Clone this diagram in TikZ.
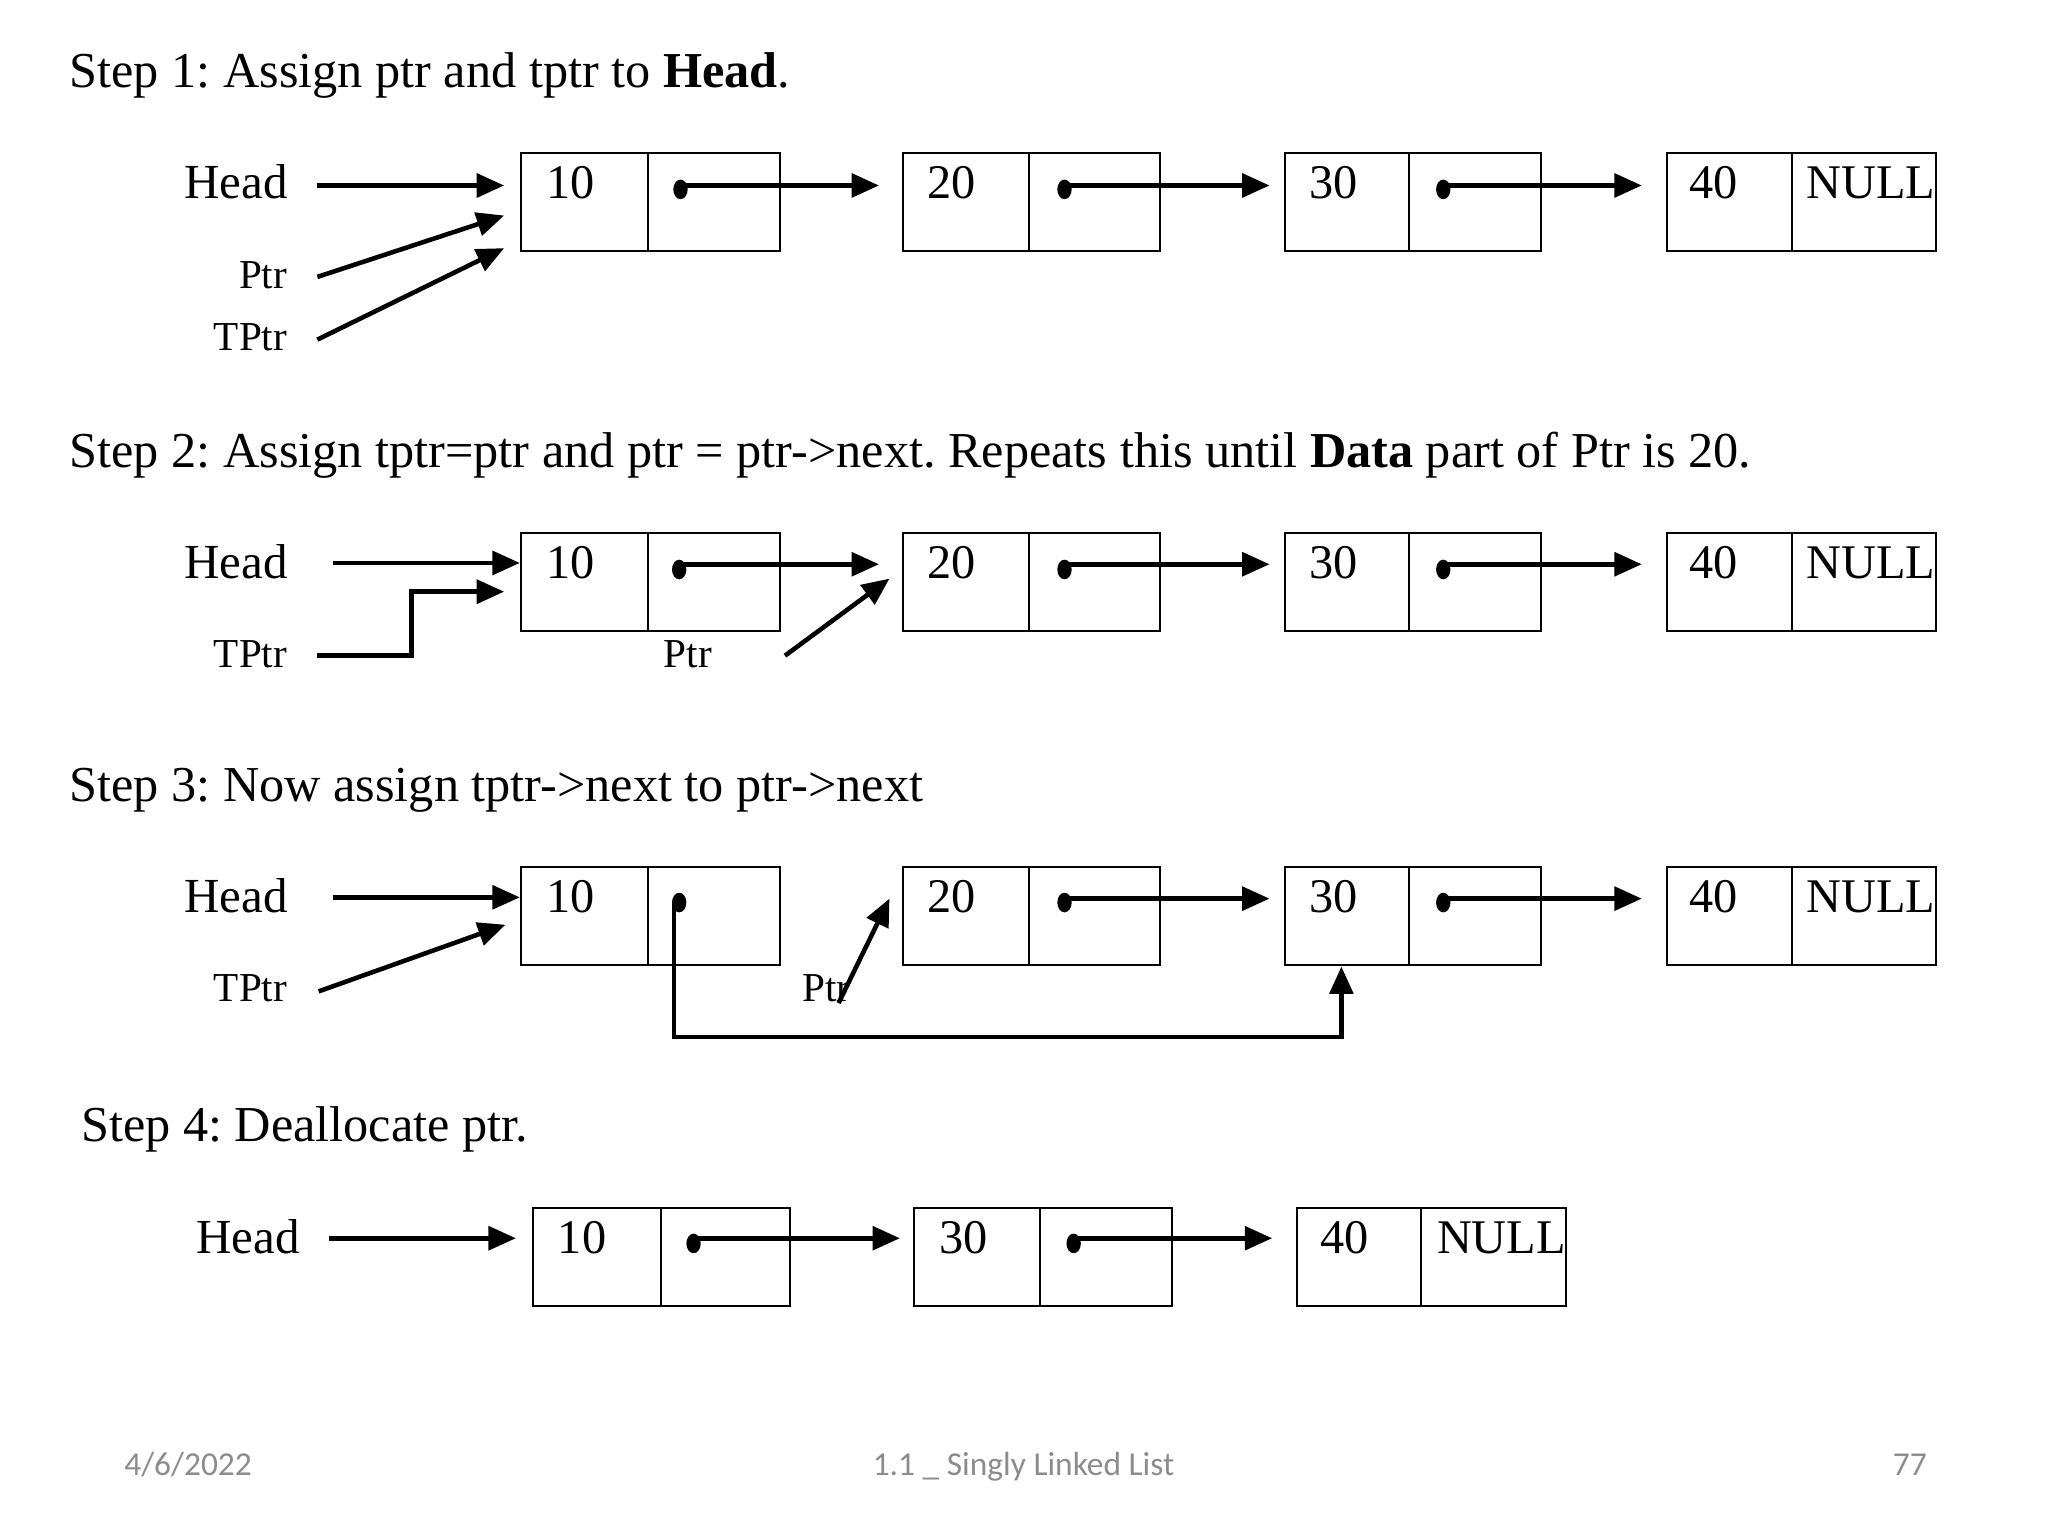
\documentclass[tikz,border=0pt]{standalone}
\usepackage{fontspec}
\setmainfont{Liberation Serif}
\newfontfamily\footfont{Carlito}
\usetikzlibrary{arrows.meta}
\definecolor{footgray}{HTML}{8C8C8C}
\frenchspacing
\begin{document}
\begin{tikzpicture}[x=1pt,y=-1pt,
  cell/.style={draw, line width=1.5pt, minimum width=#1, minimum height=75pt, inner sep=0pt, outer sep=0pt, anchor=north west},
  ptrarrow/.style={line width=3.5pt, -{Triangle[length=21pt,width=18pt]}},
  datatext/.style={font=\fontsize{37}{40}\selectfont, inner sep=0pt, anchor=base west},
  headtext/.style={font=\fontsize{37.5}{40}\selectfont, inner sep=0pt, anchor=base west},
  smalltext/.style={font=\fontsize{31.5}{34}\selectfont, inner sep=0pt},
  titletext/.style={font=\fontsize{38.5}{42}\selectfont, inner sep=0pt, anchor=base west},
  foottext/.style={font=\footfont\fontsize{25.6}{28}\selectfont, text=footgray, inner sep=0pt, anchor=base west},
  dotfill/.style={fill=black}
]
\useasboundingbox (0,0) rectangle (1568,1176);

% ---------- titles ----------
\node[titletext] (t1) at (53,67) {Step 1: Assign ptr and tptr to \textbf{Head}.};
\node[titletext] (t2) at (53,358) {Step 2: Assign tptr=ptr and ptr = ptr->next. Repeats this until \textbf{Data} part of Ptr is 20.};
\node[titletext] (t3) at (53,614) {Step 3: Now assign tptr->next to ptr->next};
\node[titletext] (t4) at (62,874) {Step 4: Deallocate ptr.};

% ---------- rows 1-3: four nodes each ----------
\foreach \r/\T in {1/117,2/408,3/664}{
  \node[cell=97]  (d\r a) at (399,\T) {};
  \node[cell=101] (p\r a) at (496,\T) {};
  \node[cell=97]  (d\r b) at (691,\T) {};
  \node[cell=100] (p\r b) at (788,\T) {};
  \node[cell=95]  (d\r c) at (984,\T) {};
  \node[cell=101] (p\r c) at (1079,\T) {};
  \node[cell=96]  (d\r d) at (1276,\T) {};
  \node[cell=110] (p\r d) at (1372,\T) {};
  \node[datatext] (n\r a) at (418,\T+35) {10};
  \node[datatext] (n\r b) at (710,\T+35) {20};
  \node[datatext] (n\r c) at (1002,\T+35) {30};
  \node[datatext] (n\r d) at (1293,\T+35) {40};
  \node[datatext] (null\r) at (1383,\T+35) {NULL};
  \node[headtext] (head\r) at (141,\T+35) {Head};
}

% ---------- row 1 ----------
\coordinate (h1s) at (243,142); \coordinate (h1e) at (386,142);
\draw[ptrarrow] (h1s) -- (h1e);
\node[smalltext, anchor=base east] (ptr1) at (220,221) {Ptr};
\node[smalltext, anchor=base east] (tptr1) at (220,268) {TPtr};
\coordinate (ptr1s) at (243,212); \coordinate (ptr1e) at (386,165);
\coordinate (tptr1s) at (243,260); \coordinate (tptr1e) at (386,190);
\draw[ptrarrow] (ptr1s) -- (ptr1e);
\draw[ptrarrow] (tptr1s) -- (tptr1e);
\foreach \n/\dx/\tx in {a/521/673, b/815/972, c/1105/1257}{
  \coordinate (dot1\n) at (\dx,145);
  \coordinate (ls1\n) at (\dx,142);
  \coordinate (le1\n) at (\tx,142);
  \fill[dotfill] (dot1\n) ellipse [x radius=5.5pt, y radius=7.5pt];
  \draw[ptrarrow] (ls1\n) -- (le1\n);
}

% ---------- row 2 ----------
\coordinate (h2s) at (255,431); \coordinate (h2e) at (398,431);
\draw[ptrarrow] (h2s) -- (h2e);
\node[smalltext, anchor=base east] (tptr2) at (220,511) {TPtr};
\coordinate (tp2s) at (243,502); \coordinate (tp2m1) at (315,502);
\coordinate (tp2m2) at (315,453); \coordinate (tp2e) at (386,453);
\draw[ptrarrow] (tp2s) -- (tp2m1) -- (tp2m2) -- (tp2e);
\node[smalltext, anchor=base west] (ptr2) at (508,511) {Ptr};
\coordinate (ptr2s) at (601,502); \coordinate (ptr2e) at (681,443);
\draw[ptrarrow] (ptr2s) -- (ptr2e);
\foreach \n/\dx/\tx in {a/520/673, b/815/972, c/1105/1257}{
  \coordinate (dot2\n) at (\dx,436);
  \coordinate (ls2\n) at (\dx,432);
  \coordinate (le2\n) at (\tx,432);
  \fill[dotfill] (dot2\n) ellipse [x radius=5.5pt, y radius=7.5pt];
  \draw[ptrarrow] (ls2\n) -- (le2\n);
}

% ---------- row 3 ----------
\coordinate (h3s) at (255,687); \coordinate (h3e) at (398,687);
\draw[ptrarrow] (h3s) -- (h3e);
\node[smalltext, anchor=base east] (tptr3) at (220,767) {TPtr};
\coordinate (tp3s) at (244,759); \coordinate (tp3e) at (387,708);
\draw[ptrarrow] (tp3s) -- (tp3e);
\node[smalltext, anchor=base west] (ptr3) at (614,767) {Ptr};
\coordinate (ptr3s) at (642,768); \coordinate (ptr3e) at (681,688);
\draw[ptrarrow] (ptr3s) -- (ptr3e);
\coordinate (dot3a) at (520,691);
\fill[dotfill] (dot3a) ellipse [x radius=5.5pt, y radius=7.5pt];
\coordinate (loop1) at (516,794); \coordinate (loop2) at (1027,794);
\coordinate (loopst) at (516,691); \coordinate (loope) at (1027,740);
\draw[ptrarrow] (loopst) -- (loop1) -- (loop2) -- (loope);
\foreach \n/\dx/\tx in {b/815/972, c/1105/1257}{
  \coordinate (dot3\n) at (\dx,691);
  \coordinate (ls3\n) at (\dx,688);
  \coordinate (le3\n) at (\tx,688);
  \fill[dotfill] (dot3\n) ellipse [x radius=5.5pt, y radius=7.5pt];
  \draw[ptrarrow] (ls3\n) -- (le3\n);
}

% ---------- row 4 ----------
\node[cell=98]  (d4a) at (408,925) {};
\node[cell=99]  (p4a) at (506,925) {};
\node[cell=96]  (d4b) at (700,925) {};
\node[cell=101] (p4b) at (796,925) {};
\node[cell=95]  (d4c) at (993,925) {};
\node[cell=111] (p4c) at (1088,925) {};
\node[datatext] (n4a) at (427,960) {10};
\node[datatext] (n4b) at (719,960) {30};
\node[datatext] (n4c) at (1011,960) {40};
\node[datatext] (null4) at (1100,960) {NULL};
\node[headtext] (head4) at (150,960) {Head};
\coordinate (h4s) at (252,948); \coordinate (h4e) at (395,948);
\draw[ptrarrow] (h4s) -- (h4e);
\foreach \n/\dx/\tx in {a/531/689, b/822/974}{
  \coordinate (dot4\n) at (\dx,952);
  \coordinate (ls4\n) at (\dx,948);
  \coordinate (le4\n) at (\tx,948);
  \fill[dotfill] (dot4\n) ellipse [x radius=5.5pt, y radius=7.5pt];
  \draw[ptrarrow] (ls4\n) -- (le4\n);
}

% ---------- footer ----------
\node[foottext] (date) at (95,1130) {4/6/2022};
\node[foottext] (ftitle) at (668,1130) {1.1 \_ Singly Linked List};
\node[foottext] (page) at (1449,1130) {77};
\end{tikzpicture}
\end{document}
